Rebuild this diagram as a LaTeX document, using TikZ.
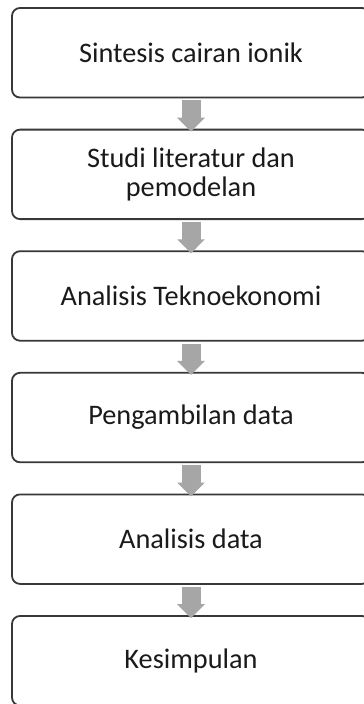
\documentclass[tikz,border=0pt]{standalone}
\usepackage{fontspec}
\setmainfont{Carlito}
\usetikzlibrary{arrows.meta}
\definecolor{boxline}{HTML}{383838}
\definecolor{arrowgray}{HTML}{A6A6A6}
\definecolor{txt}{HTML}{1A1A1A}
\tikzset{
  stepbox/.style={draw=boxline, line width=1.8pt, rounded corners=8pt, fill=white,
    minimum width=358pt, minimum height=89.5pt, inner sep=0pt, align=center,
    text=txt, font=\fontsize{28.3}{29.5}\selectfont},
  flowarrow/.style={draw=arrowgray, line width=19pt,
    -{Triangle[width=27pt,length=14pt]}}
}
\begin{document}
\begin{tikzpicture}[x=1pt,y=-1pt]
\useasboundingbox (0,0) rectangle (364,704);
\clip (0,0) rectangle (364,704);
\fill[white] (0,0) rectangle (364,704);
\node[stepbox] (b1) at (191,52.75) {Sintesis cairan ionik};
\node[stepbox] (b2) at (191,174.35) {Studi literatur dan\\pemodelan};
\node[stepbox] (b3) at (191,295.95) {Analisis Teknoekonomi};
\node[stepbox] (b4) at (191,417.55) {Pengambilan data};
\node[stepbox] (b5) at (191,539.15) {Analisis data};
\node[stepbox] (b6) at (191,660.75) {Kesimpulan};
\foreach \a/\b in {b1/b2,b2/b3,b3/b4,b4/b5,b5/b6}{
  \draw[flowarrow] ([yshift=-2pt]\a.south) -- ([yshift=-3pt]\b.north);
}
\end{tikzpicture}
\end{document}
